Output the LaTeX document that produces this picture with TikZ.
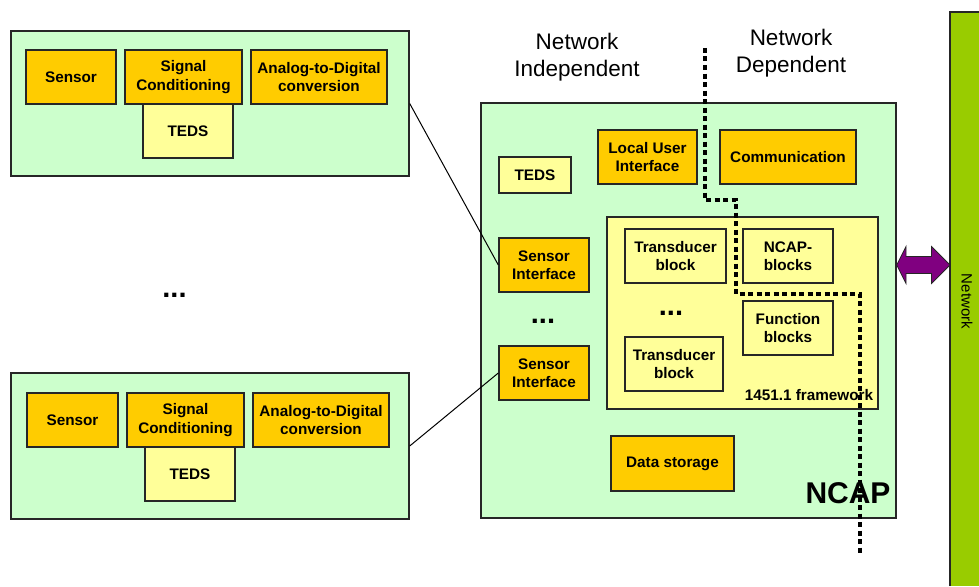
\documentclass[tikz,border=0pt]{standalone}
\usepackage{fontspec}
\setmainfont{Liberation Sans}
\definecolor{lgreen}{HTML}{CCFFCC}
\definecolor{orng}{HTML}{FFCC00}
\definecolor{lyel}{HTML}{FFFF99}
\definecolor{barg}{HTML}{99CC00}
\definecolor{purp}{HTML}{800080}
\definecolor{edge}{HTML}{262626}
\begin{document}
\begin{tikzpicture}[x=1pt,y=-1pt,
  box/.style={draw=edge,line width=1.4pt,inner sep=0pt,align=center,
    font=\bfseries\fontsize{15.3}{18.5}\selectfont},
  modbox/.style={box,fill=lgreen},
  obox/.style={box,fill=orng},
  ybox/.style={box,fill=lyel},
  dots/.style={font=\bfseries\fontsize{29}{30}\selectfont,anchor=base,inner sep=0pt},
  hdr/.style={align=center,font=\fontsize{22.5}{27}\selectfont},
  link/.style={draw=black,line width=1pt},
  divider/.style={draw=black,line width=3.2pt,dash pattern=on 5pt off 3.5pt}
]
\useasboundingbox (0,0) rectangle (979,586);
\fill[white] (0,0) rectangle (979,586);

% network bar
\fill[barg] (950,12) rectangle (979,586);
\draw[edge,line width=1.4pt] (950,586) -- (950,12) -- (979,12);
\node[rotate=-90,font=\fontsize{15}{18}\selectfont] (netlbl) at (967,301.5) {Network};

% top sensor module
\node[modbox,minimum width=398pt,minimum height=145pt] (m1) at (210,103.5) {};
\node[obox,minimum width=90pt,minimum height=54pt] (s1) at (71,77) {Sensor};
\node[obox,minimum width=117pt,minimum height=54pt] (c1) at (183.5,77) {Signal\\Conditioning};
\node[obox,minimum width=136pt,minimum height=54pt] (a1) at (319,77) {Analog-to-Digital\\conversion};
\node[ybox,minimum width=90pt,minimum height=54pt] (t1) at (188,131) {TEDS};

% bottom sensor module
\node[modbox,minimum width=398pt,minimum height=146pt] (m2) at (210,446) {};
\node[obox,minimum width=91pt,minimum height=54pt] (s2) at (72.5,420) {Sensor};
\node[obox,minimum width=117pt,minimum height=54pt] (c2) at (185.5,420) {Signal\\Conditioning};
\node[obox,minimum width=136pt,minimum height=54pt] (a2) at (321,420) {Analog-to-Digital\\conversion};
\node[ybox,minimum width=90pt,minimum height=54pt] (t2) at (190,474) {TEDS};

\node[dots] (dotsL) at (174.5,297.5) {...};

% headers
\node[hdr] (nind) at (577,57) {Network\\Independent};
\node[hdr] (ndep) at (791,53.5) {Network\\Dependent};

% NCAP
\node[modbox,minimum width=415pt,minimum height=415pt] (ncap) at (688.5,310.5) {};
\node[ybox,minimum width=72pt,minimum height=36pt] (nteds) at (535,175) {TEDS};
\node[obox,minimum width=99pt,minimum height=54pt] (lui) at (647.5,157) {Local User\\Interface};
\node[obox,minimum width=136pt,minimum height=54pt] (comm) at (788,157) {Communication};
\node[obox,minimum width=90pt,minimum height=54pt] (si1) at (544,265) {Sensor\\Interface};
\node[obox,minimum width=90pt,minimum height=54pt] (si2) at (544,373) {Sensor\\Interface};
\node[dots] (dotsN) at (543,323) {...};
\node[ybox,minimum width=271pt,minimum height=192pt] (fw) at (742.5,313) {};
\node[ybox,minimum width=101pt,minimum height=54pt] (tb1) at (675.5,256) {Transducer\\block};
\node[ybox,minimum width=90pt,minimum height=54pt] (ncb) at (788,256) {NCAP-\\blocks};
\node[ybox,minimum width=90pt,minimum height=54pt] (fb) at (788,328) {Function\\blocks};
\node[ybox,minimum width=98pt,minimum height=54pt] (tb2) at (674,364) {Transducer\\block};
\node[dots] (dotsF) at (671,315.5) {...};
\node[font=\bfseries\fontsize{15.3}{18}\selectfont,inner sep=0pt] (fwlbl) at (809,395) {1451.1 framework};
\node[obox,minimum width=123pt,minimum height=55pt] (ds) at (672.5,463.5) {Data storage};
\node[font=\bfseries\fontsize{30}{32}\selectfont,inner sep=0pt] (ncaplbl) at (848,493) {NCAP};

% links
\draw[link] (m1.east) -- (si1.west);
\draw[link] (m2.east) -- (si2.west);

% double arrow between NCAP and network
\filldraw[fill=purp,draw=edge,line width=0.8pt]
  (ncap.east |- 0,265) -- (906,246.5) -- (906,256.5) -- (931.5,256.5) -- (931.5,246.5)
  -- (950,265) -- (931.5,283.5) -- (931.5,273.5) -- (906,273.5) -- (906,283.5) -- cycle;

% divider
\coordinate (d0) at (705,48);
\coordinate (d1) at (705,200);
\coordinate (d2) at (736,200);
\coordinate (d3) at (736,294);
\coordinate (d4) at (860,294);
\coordinate (d5) at (860,555);
\draw[divider] (d0) -- (d1) -- (d2) -- (d3) -- (d4) -- (d5);
\end{tikzpicture}
\end{document}
